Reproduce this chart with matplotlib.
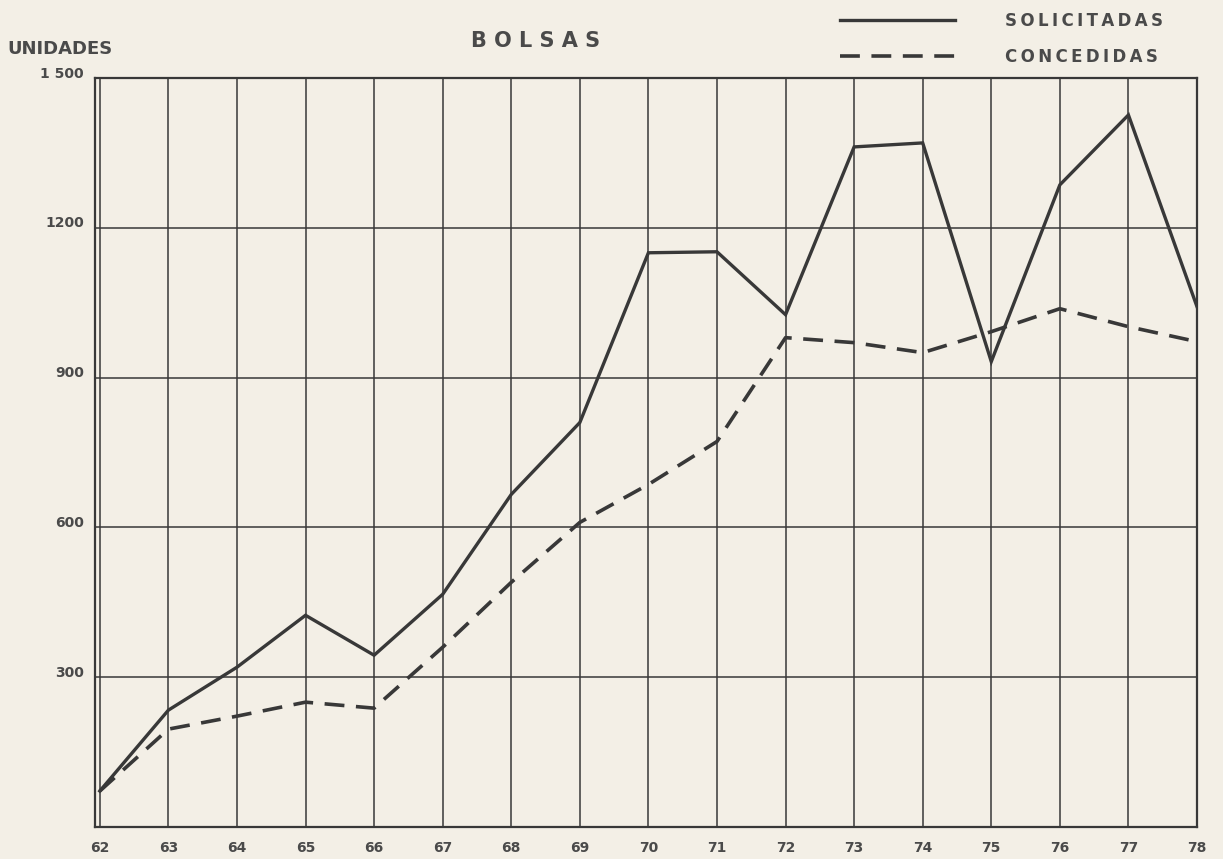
import matplotlib
matplotlib.use("Agg")
import matplotlib.pyplot as plt
import matplotlib.transforms as mtransforms

# data
years = [62, 63, 64, 65, 66, 67, 68, 69, 70, 71, 72, 73, 74, 75, 76, 77, 78]
solicitadas = [72, 234, 320, 424, 344, 466, 666, 810, 1150, 1152, 1026, 1362, 1370, 932, 1286, 1426, 1042]
concedidas = [72, 196, 222, 250, 238, 360, 490, 610, 686, 772, 980, 970, 950, 992, 1038, 1002, 972]
year_labels = ["62", "63", "64", "65", "66", "67", "68", "69", "70", "71", "72",
               "73", "74", "75", "76", "77", "78"]
y_ticks = [300, 600, 900, 1200, 1500]
y_labels = ["300", "600", "900", "1200", "1 500"]

paper = "#f3efe6"
ink = "#383838"
txt = "#4a4a4a"


def spaced(s):
    # the typed lettering is spread out; thin spaces between letters
    return "\u2009".join(s)


fig = plt.figure(figsize=(12.23, 8.59), dpi=100, facecolor=paper)
ax = fig.add_axes([95 / 1223, 1 - 827 / 859, (1197 - 95) / 1223, (827 - 78) / 859])
ax.set_facecolor(paper)

ax.set_xlim(61.93, 78)
ax.set_ylim(0, 1500)

# grid
for y in y_ticks:
    ax.axhline(y, color=ink, lw=1.1, zorder=1)
for x in years:
    ax.axvline(x, color=ink, lw=1.1, zorder=1)
for s in ax.spines.values():
    s.set_color(ink)
    s.set_linewidth(1.6)

# series
ax.plot(years, solicitadas, color=ink, lw=2.4, solid_joinstyle="miter",
        label=spaced("SOLICITADAS"), zorder=3)
ax.plot(years, concedidas, color=ink, lw=2.6, dashes=(5.5, 3.2),
        label=spaced("CONCEDIDAS"), zorder=3)

ax.tick_params(length=0)
ax.set_xticks(years)
ax.set_xticklabels(year_labels, fontsize=10, fontweight="bold", color=txt)
ax.tick_params(axis="x", pad=10)
ax.set_yticks(y_ticks)
ax.set_yticklabels(y_labels, fontsize=10, fontweight="bold", color=txt)
ax.tick_params(axis="y", pad=8)
up = mtransforms.ScaledTranslation(0, 6 / 100, fig.dpi_scale_trans)
for lbl in ax.get_yticklabels():
    lbl.set_transform(lbl.get_transform() + up)

fig.text(7 / 1223, 1 - 49 / 859, "UNIDADES", fontsize=13, fontweight="bold",
         color=txt, ha="left", va="center")
fig.text(536 / 1223, 1 - 41 / 859, "B O L S A S", fontsize=15, fontweight="bold",
         color=txt, ha="center", va="center")

leg = ax.legend(loc="center right", bbox_to_anchor=(1178 / 1223, 1 - 39 / 859),
                bbox_transform=fig.transFigure, frameon=False,
                handlelength=6.9, handletextpad=3.0, labelspacing=1.1,
                prop={"size": 12, "weight": "bold"})
for t in leg.get_texts():
    t.set_color(txt)

fig.savefig("out.png", dpi=100, facecolor=paper)
